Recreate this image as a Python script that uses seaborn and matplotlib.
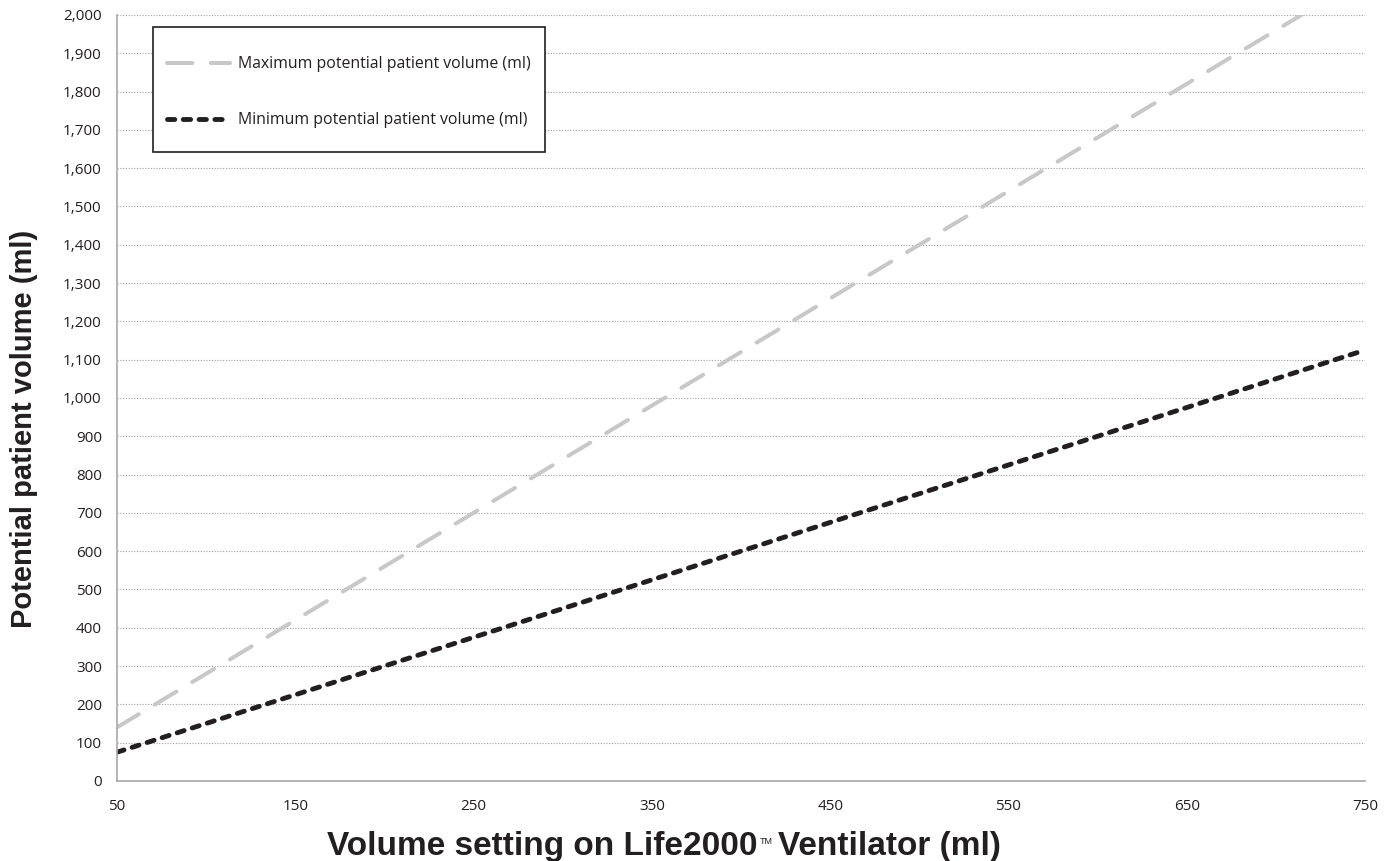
import pandas as pd
import matplotlib.pyplot as plt
import seaborn as sns
from matplotlib.patches import Rectangle
from matplotlib.ticker import FuncFormatter

# Data
volume_setting = [50, 100, 150, 200, 250, 300, 350, 400, 450, 500, 550, 600, 650, 700, 750]
max_volume = [140, 280, 420, 560, 700, 840, 980, 1120, 1260, 1400, 1540, 1680, 1820, 1960, 2100]
min_volume = [75, 150, 225, 300, 375, 450, 525, 600, 675, 750, 825, 900, 975, 1050, 1125]

max_label = "Maximum potential patient volume (ml)"
min_label = "Minimum potential patient volume (ml)"

df = pd.DataFrame({
    "setting": volume_setting,
    "max": max_volume,
    "min": min_volume,
})

sns.set_style("white")
plt.rcParams["font.family"] = ["Open Sans", "DejaVu Sans"]
title_font = ["Liberation Sans", "DejaVu Sans"]
ink = "#231f20"

fig = plt.figure(figsize=(13.9, 8.61), dpi=100)
ax = fig.add_axes([0.0842, 0.093, 0.8978, 0.8896])

sns.lineplot(data=df, x="setting", y="max", ax=ax, color="#c8c8c8",
             linewidth=2.9, label=max_label)
sns.lineplot(data=df, x="setting", y="min", ax=ax, color=ink,
             linewidth=3.5, label=min_label)

ax.lines[0].set_dashes([6.3, 4.6])
ax.lines[1].set_dashes([1.5, 1.75])
for ln in ax.lines:
    ln.set_dash_capstyle("round")

ax.set_xlim(50, 750)
ax.set_ylim(0, 2000)
ax.set_xticks(range(50, 751, 100))
ax.set_yticks(range(0, 2001, 100))
ax.yaxis.set_major_formatter(FuncFormatter(lambda v, p: f"{int(v):,}"))

ax.grid(axis="y", linestyle=(0, (1, 1.5)), color="#a0a0a0", linewidth=0.8)
ax.grid(axis="x", visible=False)

for side in ["top", "right"]:
    ax.spines[side].set_visible(False)
for side in ["left", "bottom"]:
    ax.spines[side].set_color("#a8a8a8")
    ax.spines[side].set_linewidth(1.2)

ax.tick_params(axis="both", direction="out", length=5, width=1.2,
               color="#a8a8a8", labelsize=11, labelcolor=ink)
ax.tick_params(axis="x", pad=8)
ax.tick_params(axis="y", pad=6)

# axis titles
ax.set_xlabel("")
ax.set_ylabel("Potential patient volume (ml)", fontsize=21,
              fontweight="bold", family=title_font, color=ink)
ax.yaxis.set_label_coords(-0.063, 0.46)

t1 = fig.text(327 / 1390, 1 - 855 / 861, "Volume setting on Life2000",
              ha="left", va="baseline", fontsize=24, fontweight="bold",
              family=title_font, color=ink)
ax.annotate("TM", xy=(1, 1), xycoords=t1, xytext=(1.5, -4),
            textcoords="offset points", ha="left", va="top",
            fontsize=6.5, family=title_font, color=ink)
ax.annotate("Ventilator (ml)", xy=(1, 0), xycoords=t1, xytext=(15, 0),
            textcoords="offset points", ha="left", va="bottom",
            fontsize=24, fontweight="bold", family=title_font, color=ink)

# legend: box drawn separately so the padding can match the original
ax.add_patch(Rectangle((0.0288, 0.8211), 0.3141, 0.1632, transform=ax.transAxes,
                       facecolor="white", edgecolor=ink, linewidth=1.2,
                       zorder=4))
leg = ax.legend(loc="upper left", bbox_to_anchor=(0.0401, 0.9459),
                borderaxespad=0, borderpad=0, fontsize=11.4, handlelength=4.0,
                labelspacing=2.53, handletextpad=0.5, frameon=False)
leg.set_zorder(5)
for t in leg.get_texts():
    t.set_color(ink)

fig.savefig("out.png", dpi=100)
